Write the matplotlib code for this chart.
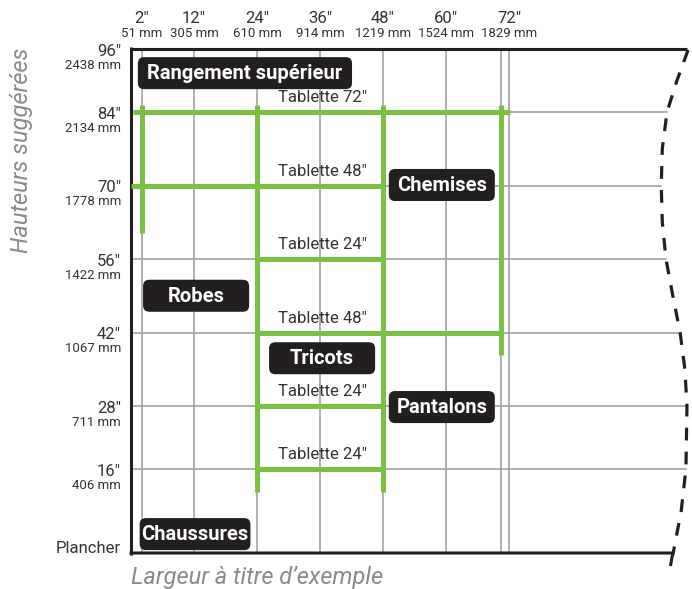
import matplotlib.pyplot as plt
from matplotlib.patches import FancyBboxPatch

plt.rcParams['font.family'] = ['Roboto', 'DejaVu Sans']

# hauteurs (pouces) et libellés
heights = [96, 84, 70, 56, 42, 28, 16]
heights_mm = ['2438 mm', '2134 mm', '1778 mm', '1422 mm', '1067 mm', '711 mm', '406 mm']
# largeurs (pouces) et libellés
widths = [2, 12, 24, 36, 48, 60, 72]
widths_mm = ['51 mm', '305 mm', '610 mm', '914 mm', '1219 mm', '1524 mm', '1829 mm']
extra_vline = 70.5

# tablettes : hauteur, début, fin, libellé
shelf_y = [84, 70, 56, 42, 28, 16]
shelf_x0 = [0.3, 0, 24, 24, 24, 24]
shelf_x1 = [72.2, 48, 48, 70.5, 48, 48]
shelf_names = ['Tablette 72″', 'Tablette 48″', 'Tablette 24″', 'Tablette 48″', 'Tablette 24″', 'Tablette 24″']

# montants verts : x, bas, haut
post_x = [2, 24, 48, 70.5]
post_bottom = [61, 11.6, 11.6, 37.7]
post_top = [85.3, 85.3, 85.3, 85.3]

# zones de rangement
zones = ['Rangement supérieur', 'Chemises', 'Robes', 'Tricots', 'Pantalons', 'Chaussures']
zone_x = [21.7, 59.2, 12.4, 36.4, 59.2, 12.2]
zone_y = [91.4, 70.1, 49.0, 37.1, 27.8, 3.6]
zone_w = [40.8, 20.2, 20.2, 20.2, 20.2, 21.1]

# contour droit (pointillé) et fin des lignes horizontales
curve_x = [106.1, 104.0, 102.1, 101.2, 101.0, 101.2, 101.9, 103.2, 104.6, 105.5, 105.9, 105.7, 104.8, 103.2]
curve_y = [95.8, 90.0, 84.0, 77.0, 70.0, 63.0, 56.0, 49.0, 42.0, 35.0, 28.0, 16.0, 8.0, -0.4]
grid_end = [102.1, 101.0, 101.9, 104.6, 105.9, 105.7]

ppi = 5.25
fig = plt.figure(figsize=(6.92, 5.89), dpi=100)
ax = fig.add_axes([131 / 692, 36 / 589, 100 * ppi / 692, 96 * ppi / 589])
ax.set_xlim(0, 100)
ax.set_ylim(0, 96)
ax.set_axis_off()

grey = '#9a9a9a'
green = '#7ac143'
dark = '#231f20'
txt = '#333333'
kw = dict(clip_on=False)

# grille
for x in widths + [extra_vline]:
    ax.plot([x, x], [0, 96], color=grey, lw=1.1, zorder=1, **kw)
for y, xe in zip(shelf_y, grid_end):
    ax.plot([0, xe], [y, y], color=grey, lw=1.1, zorder=1, **kw)

# cadre
ax.plot([0, 105.9], [96, 96], color=dark, lw=2.2, solid_capstyle='butt', **kw)
ax.plot([0, 0], [-0.3, 96.3], color=dark, lw=2.2, solid_capstyle='butt', **kw)
ax.plot([0, 103.2, 102.8], [0, 0, -2.2], color=dark, lw=2.2, **kw)
ax.plot(curve_x, curve_y, color=dark, lw=2.3, dashes=(4, 3.5), **kw)

# tablettes et montants
for y, x0, x1, name in zip(shelf_y, shelf_x0, shelf_x1, shelf_names):
    ax.plot([x0, x1], [y, y], color=green, lw=3.6, solid_capstyle='butt', zorder=3, **kw)
    ax.text(36.4, y + 2.7, name, ha='center', va='center', fontsize=12, color=txt, zorder=4)
for x, b, t in zip(post_x, post_bottom, post_top):
    ax.plot([x, x], [b, t], color=green, lw=3.6, solid_capstyle='butt', zorder=3, **kw)

# étiquettes noires
h = 6.1
r = 1.2
for name, cx, cy, w in zip(zones, zone_x, zone_y, zone_w):
    box = FancyBboxPatch((cx - w / 2 + r, cy - h / 2 + r), w - 2 * r, h - 2 * r,
                         boxstyle=f'round,pad={r}', fc=dark, ec='none', zorder=5, **kw)
    ax.add_patch(box)
    ax.text(cx, cy - 0.1, name, ha='center', va='center', color='white', fontsize=14.5,
            fontweight='bold', zorder=6)

# libellés de hauteur
for y, mm in zip(heights, heights_mm):
    ax.text(-1.9, y - 0.4, f'{y}″', ha='right', va='center', fontsize=12, color=txt, **kw)
    ax.text(-1.9, y - 3.1, mm, ha='right', va='center', fontsize=9.5, color=txt, **kw)
ax.text(-1.9, 0.9, 'Plancher', ha='right', va='center', fontsize=12, color=txt, **kw)

# libellés de largeur
for x, mm in zip(widths, widths_mm):
    ax.text(x, 101.9, f'{x}″', ha='center', va='center', fontsize=12, color=txt, **kw)
    ax.text(x, 99.0, mm, ha='center', va='center', fontsize=9.5, color=txt, **kw)

ax.text(0, -4.6, 'Largeur à titre d’exemple', ha='left', va='center', fontsize=17,
        style='italic', color='#8a8a8a', **kw)
fig.text(22 / 692, 1 - 150 / 589, 'Hauteurs suggérées', rotation=90, ha='center', va='center',
         fontsize=17, style='italic', color='#8a8a8a')

fig.savefig('out.png', dpi=100)
